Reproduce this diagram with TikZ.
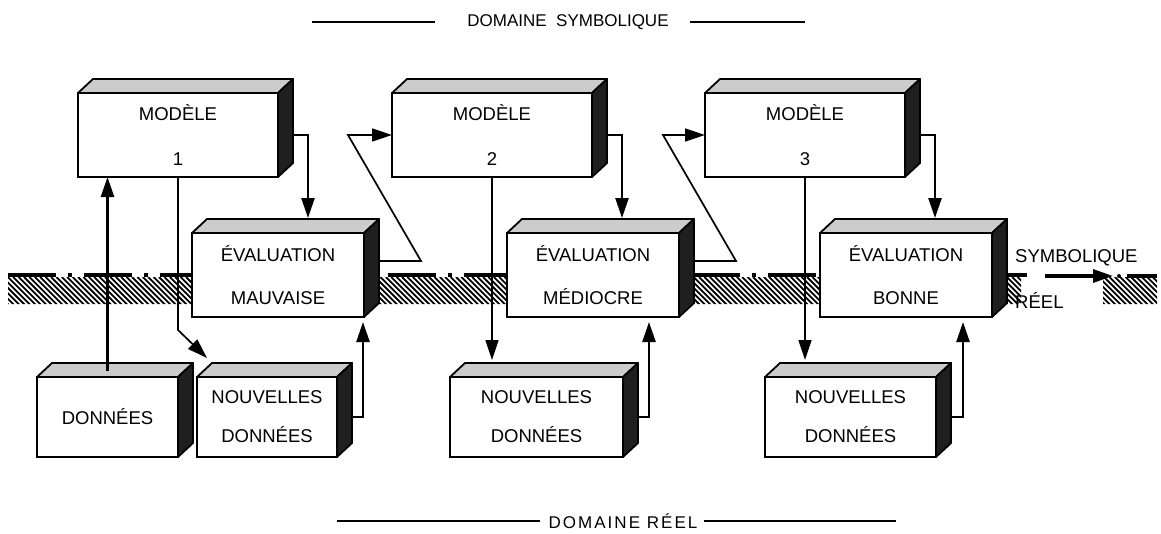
\documentclass[tikz,border=0pt]{standalone}
\usepackage{fontspec}
\setmainfont{Liberation Sans}
\usetikzlibrary{arrows.meta}

\newcommand\boxfont{\fontsize{18.5}{22}\selectfont}
\newcommand\titlefont{\fontsize{17}{20}\selectfont}

% a 3-D block: name, x, y (front face, top left), width, height, text
\newcommand\blockbox[6]{%
  \node[face, minimum width=#4pt, minimum height=#5pt] (#1) at (#2,#3) {#6};
  \filldraw[topface] (#1.north west) -- ++(15,-14)
     -- ([shift={(15,-14)}]#1.north east) -- (#1.north east) -- cycle;
  \filldraw[sideface] (#1.north east) -- ++(15,-14)
     -- ([shift={(15,-14)}]#1.south east) -- (#1.south east) -- cycle;
}

\begin{document}
\begin{tikzpicture}[x=1pt, y=-1pt,
  face/.style={draw=black, line width=2.8pt, fill=white, inner sep=0pt,
               outer sep=0pt, anchor=north west, align=center, font=\boxfont},
  topface/.style={draw=black, line width=1.8pt, fill=gray!40, line join=round},
  sideface/.style={draw=black, line width=1.8pt, fill=black!88, line join=round},
  arr/.style={line width=2.5pt, -{Triangle[length=20pt,width=13pt]}},
  thin arr/.style={line width=1.7pt, -{Triangle[length=20pt,width=13pt]}},
  label/.style={font=\boxfont, inner sep=0pt},
  title/.style={font=\titlefont, inner sep=0pt},
  rule/.style={line width=1.6pt}]
\useasboundingbox (0,0) rectangle (1161,533);

% ---------- the boundary between symbolic and real ----------
\begin{scope}
  \clip (8,277) rectangle (1021,304) (1103,277) rectangle (1157,304);
  \foreach \i in {-30,-24.6,...,1160}
    \draw[line width=1.8pt] (\i,277) -- ++(28,28);
\end{scope}
\draw[line width=3.2pt, dash pattern=on 48pt off 12pt on 4pt off 12pt] (8,275) -- (1027,275);
\coordinate (sa) at (1045,276);
\coordinate (sb) at (1113,276);
\draw[line width=3.2pt, -{Triangle[length=20pt,width=13pt]}] (sa) -- (sb);
\fill (1119,276) circle (2);
\draw[line width=3.2pt] (1127,276) -- (1157,276);
\node[label, anchor=west] (sym) at (1015,258) {SYMBOLIQUE};
\node[label, anchor=west] (reel) at (1015,300) {RÉEL};

% ---------- domain titles ----------
\node[title] (tsym) at (568,22) {DOMAINE\ \ SYMBOLIQUE};
\draw[rule] ([xshift=-32pt]tsym.west) -- ++(-123,0);
\draw[rule] ([xshift=21pt]tsym.east) -- ++(115,0);
\node[title] (treel) at (623,521) {\addfontfeature{LetterSpace=12}DOMAINE\ RÉEL};
\draw[rule] ([xshift=-8pt]treel.west) -- ++(-203,0);
\draw[rule] ([xshift=6pt]treel.east) -- ++(192,0);

% ---------- blocks ----------
\blockbox{m1}{78}{93}{200}{84}{MODÈLE\\[23pt]1}
\blockbox{m2}{392}{93}{200}{84}{MODÈLE\\[23pt]2}
\blockbox{m3}{705}{93}{200}{84}{MODÈLE\\[23pt]3}
\blockbox{e1}{192}{233}{172}{84}{ÉVALUATION\\[21pt]MAUVAISE}
\blockbox{e2}{507}{233}{172}{84}{ÉVALUATION\\[21pt]MÉDIOCRE}
\blockbox{e3}{820}{233}{172}{84}{ÉVALUATION\\[21pt]BONNE}
\blockbox{d}{37}{377}{141}{80}{DONNÉES}
\blockbox{n1}{197}{377}{140}{80}{NOUVELLES\\[17pt]DONNÉES}
\blockbox{n2}{450}{377}{173}{80}{NOUVELLES\\[17pt]DONNÉES}
\blockbox{n3}{765}{377}{171}{80}{NOUVELLES\\[17pt]DONNÉES}

% ---------- connectors ----------
% data feed the first model
\draw[arr] ([shift={(0,-6)}]d.north) -- (d.north |- m1.south);
\draw[thin arr] (m1.south) -- ++(0,153) -- ([shift={(10,-19)}]n1.north west);
% each model is evaluated
\draw[arr] ([shift={(15,0)}]m1.east) -| ([shift={(30,-15)}]e1.north);
\draw[arr] ([shift={(15,0)}]m2.east) -| ([shift={(29,-15)}]e2.north);
\draw[arr] ([shift={(15,0)}]m3.east) -| ([shift={(29,-15)}]e3.north);
% evaluation leads to the next model
\draw[thin arr] ([shift={(15,-14)}]e1.east) -- ++(42,0) -- ++(-73,-126) -- (m2.west);
\draw[thin arr] ([shift={(15,-14)}]e2.east) -- ++(42,0) -- ++(-73,-126) -- (m3.west);
% models call for new data
\draw[thin arr, shorten >=17pt] (m2.south) -- (m2.south |- n2.north);
\draw[thin arr, shorten >=17pt] (m3.south) -- (m3.south |- n3.north);
% new data feed the evaluations
\draw[arr] ([shift={(15,0)}]n1.east) -| ([shift={(-1,5)}]e1.south east);
\draw[arr] ([shift={(15,0)}]n2.east) -| ([shift={(-30,5)}]e2.south east);
\draw[arr] ([shift={(15,0)}]n3.east) -| ([shift={(-29,5)}]e3.south east);
\end{tikzpicture}
\end{document}
